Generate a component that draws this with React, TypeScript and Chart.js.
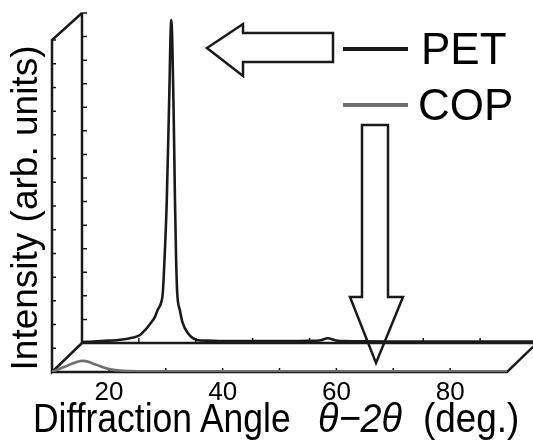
import React, { useEffect, useRef } from "react";
import { Chart, registerables } from "chart.js";

Chart.register(...registerables);

// ---- data ----
const petAngle = [10, 12, 14, 16, 18, 19, 20.2, 21.1, 22.1, 22.8, 23.3, 23.9, 24.2, 24.5, 24.9, 25.3, 25.7, 26.1, 26.35, 26.55, 26.75, 27.2, 27.7, 28.6, 30.2, 32, 36, 40, 45, 50, 52, 53.2, 54.5, 56, 60, 70, 80, 90];
const petIntensity = [0.4, 0.6, 0.9, 1.2, 1.8, 2.3, 3.4, 5.5, 8.5, 11, 14, 17, 21, 35, 60, 100, 137, 100, 60, 35, 21, 14, 8.5, 4.2, 1.3, 1.0, 0.8, 0.8, 0.8, 0.9, 1.2, 2.0, 1.2, 0.8, 0.7, 0.6, 0.6, 0.6];

const copAngle = [10, 11, 12, 13, 14, 15, 15.5, 16.5, 17.5, 18.5, 19.5, 20.5, 22, 24, 26, 30, 40, 50, 60, 70, 80, 90];
const copIntensity = [0.2, 1.0, 2.0, 3.0, 3.9, 4.6, 4.7, 4.2, 3.3, 2.4, 1.6, 1.0, 0.6, 0.4, 0.3, 0.3, 0.3, 0.3, 0.3, 0.3, 0.3, 0.3];

const xMin = 10;
const xMax = 90;
const xStep = 10;
const xTickLabels = [20, 40, 60, 80];
const yMin = 0;
const yMax = 140;
const yStep = 10;

const seriesNames = ["PET", "COP"];
const xTitleParts = ["Diffraction Angle", "\u03B8\u22122\u03B8", "(deg.)"];
const yTitle = "Intensity (arb. units)";

// ---- layout / style ----
const W = 533;
const H = 441;
const DX = 30; // depth offset of back plane
const DY = 29;
const FONT = "'Liberation Sans', Arial, sans-serif";
const INK = "#1a1a1a";
const GRAY = "#707070";

function tickMarks(ctx: CanvasRenderingContext2D, chart: any, len: number) {
  const { chartArea } = chart;
  const xs = chart.scales.x;
  const ys = chart.scales.y;
  ctx.save();
  ctx.strokeStyle = INK;
  ctx.lineWidth = 1.5;
  ctx.beginPath();
  xs.ticks.forEach((t: any) => {
    const px = xs.getPixelForValue(t.value);
    if (t.value <= xMin || t.value >= xMax) return;
    ctx.moveTo(px, chartArea.bottom);
    ctx.lineTo(px, chartArea.bottom - len);
  });
  ys.ticks.forEach((t: any) => {
    const py = ys.getPixelForValue(t.value);
    if (t.value <= yMin) return;
    ctx.moveTo(chartArea.left, py);
    ctx.lineTo(chartArea.left + len, py);
  });
  ctx.stroke();
  ctx.restore();
}

const backFrame = {
  id: "backFrame",
  beforeDatasetsDraw(chart: any) {
    const { ctx, chartArea } = chart;
    ctx.save();
    ctx.strokeStyle = INK;
    ctx.lineWidth = 2.5;
    ctx.beginPath();
    ctx.moveTo(chartArea.left, chartArea.top);
    ctx.lineTo(chartArea.left, chartArea.bottom);
    ctx.lineTo(chartArea.right + 10, chartArea.bottom);
    ctx.stroke();
    ctx.restore();
    tickMarks(ctx, chart, 5);
  },
};

const frontFrame = {
  id: "frontFrame",
  beforeDatasetsDraw(chart: any) {
    const { ctx, chartArea } = chart;
    const { left, right, top, bottom } = chartArea;
    ctx.save();
    ctx.strokeStyle = INK;
    ctx.lineWidth = 2.5;
    ctx.lineJoin = "miter";
    ctx.beginPath();
    // left wall
    ctx.moveTo(left + DX, top - 27);
    ctx.lineTo(left, top);
    ctx.lineTo(left, bottom);
    ctx.lineTo(left + DX, bottom - DY);
    // floor front edge
    ctx.moveTo(left, bottom);
    ctx.lineTo(right, bottom);
    ctx.lineTo(right + DX, bottom - DY);
    ctx.stroke();
    ctx.restore();
    tickMarks(ctx, chart, 4);
  },
};

function makeConfig(kind: "front" | "back") {
  const front = kind === "front";
  const xs = front ? copAngle : petAngle;
  const ys = front ? copIntensity : petIntensity;
  return {
    type: "line" as const,
    data: {
      datasets: [
        {
          label: front ? seriesNames[1] : seriesNames[0],
          data: xs.map((x, i) => ({ x, y: ys[i] })),
          borderColor: front ? GRAY : INK,
          borderWidth: 2.6,
          pointRadius: 0,
          fill: false,
          cubicInterpolationMode: "monotone" as const,
        },
      ],
    },
    options: {
      responsive: false,
      animation: false as const,
      devicePixelRatio: 1,
      layout: {
        padding: front
          ? { left: 0, top: 40, right: 26, bottom: 0 }
          : { left: 0, top: 13, right: 26 - DX + 37, bottom: 0 },
      },
      plugins: { legend: { display: false }, tooltip: { enabled: false } },
      scales: {
        x: {
          type: "linear" as const,
          min: xMin,
          max: xMax,
          grid: { display: false, drawTicks: false },
          border: { display: false },
          ticks: {
            display: front,
            stepSize: xStep,
            autoSkip: false,
            maxRotation: 0,
            padding: 5,
            color: "#000",
            font: { family: FONT, size: 26 },
            callback: (v: any) => (xTickLabels.includes(Number(v)) ? String(v) : ""),
          },
          afterFit: (s: any) => {
            s.height = front ? H - 372 : H - 343;
          },
        },
        y: {
          min: yMin,
          max: yMax,
          grid: { display: false, drawTicks: false },
          border: { display: false },
          ticks: { display: false, stepSize: yStep },
          afterFit: (s: any) => {
            s.width = front ? 52 : 52 + DX;
          },
        },
      },
    },
    plugins: [front ? frontFrame : backFrame],
  };
}

function ChartCanvas({ kind, width }: { kind: "front" | "back"; width: number }) {
  const ref = useRef<HTMLCanvasElement | null>(null);
  useEffect(() => {
    if (!ref.current) return;
    const chart = new Chart(ref.current, makeConfig(kind) as any);
    return () => chart.destroy();
  }, [kind]);
  return (
    <canvas
      ref={ref}
      width={width}
      height={H}
      style={{ position: "absolute", left: 0, top: 0, width, height: H }}
    />
  );
}

const titleSpan = (left: number, sx: number, italic = false): React.CSSProperties => ({
  position: "absolute",
  left,
  top: 398,
  fontSize: 41,
  lineHeight: "41px",
  color: "#000",
  whiteSpace: "nowrap",
  fontStyle: italic ? "italic" : "normal",
  transform: `scaleX(${sx})`,
  transformOrigin: "0 50%",
});

export default function App() {
  return (
    <div
      style={{
        position: "fixed",
        left: 0,
        top: 0,
        width: W,
        height: H,
        overflow: "hidden",
        background: "#fff",
        fontFamily: FONT,
      }}
    >
      <ChartCanvas kind="back" width={W + 37} />
      <ChartCanvas kind="front" width={W} />

      {/* axis titles */}
      <div
        style={{
          position: "absolute",
          left: 25 - 200,
          top: 208 - 22,
          width: 400,
          height: 44,
          lineHeight: "44px",
          textAlign: "center",
          fontSize: 37,
          color: "#000",
          transform: "rotate(-90deg)",
          transformOrigin: "50% 50%",
          whiteSpace: "nowrap",
        }}
      >
        {yTitle}
      </div>
      <span style={titleSpan(33, 0.865)}>{xTitleParts[0]}</span>
      <span style={titleSpan(318, 0.92, true)}>{xTitleParts[1]}</span>
      <span style={titleSpan(423, 0.9)}>{xTitleParts[2]}</span>

      {/* legend */}
      <div style={{ position: "absolute", left: 343, top: 47, width: 65, height: 4, background: INK }} />
      <div style={{ position: "absolute", left: 343, top: 103, width: 65, height: 4, background: GRAY }} />
      <div
        style={{ position: "absolute", left: 421, top: 25, fontSize: 44, lineHeight: "48px", color: "#000" }}
      >
        {seriesNames[0]}
      </div>
      <div
        style={{ position: "absolute", left: 418, top: 81, fontSize: 44, lineHeight: "48px", color: "#000" }}
      >
        {seriesNames[1]}
      </div>

      {/* arrows */}
      <svg
        width={W}
        height={H}
        style={{ position: "absolute", left: 0, top: 0, pointerEvents: "none" }}
      >
        <polygon
          points="207,48 243,24 243,33 333,33 333,62 243,62 243,76"
          fill="#fff"
          stroke={INK}
          strokeWidth={2.5}
          strokeLinejoin="miter"
        />
        <polygon
          points="362,125 388,125 388,297 403,297 376,363 350,297 362,297"
          fill="none"
          stroke={INK}
          strokeWidth={2.5}
          strokeLinejoin="miter"
        />
      </svg>
    </div>
  );
}
